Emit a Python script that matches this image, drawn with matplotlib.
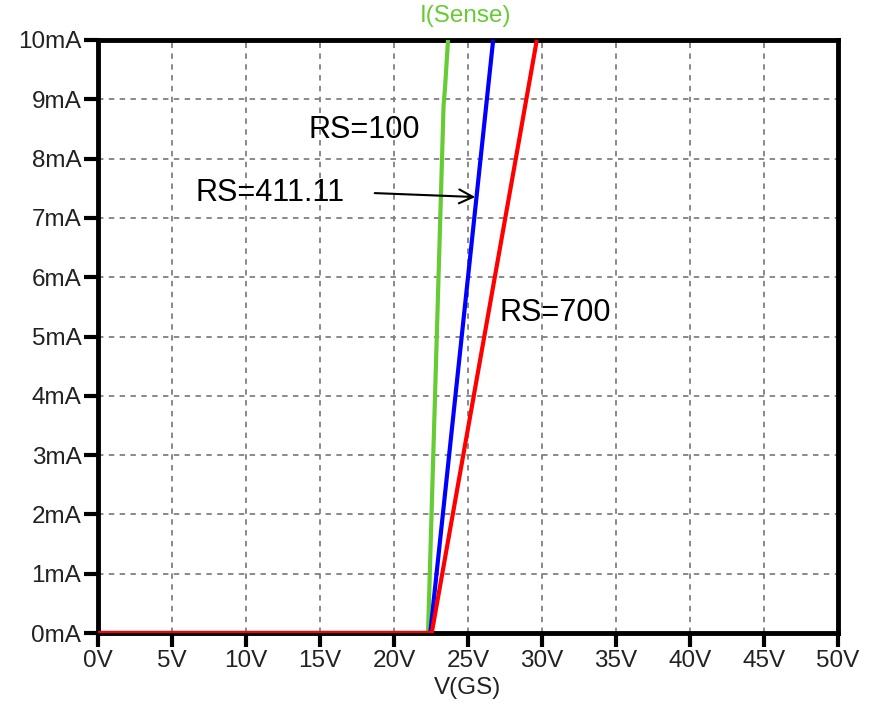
import matplotlib
matplotlib.use("Agg")
import matplotlib.pyplot as plt
from matplotlib.ticker import FuncFormatter

# V(GS) sweep [V] vs I(Sense) [mA] for three RS values
green_v = [0, 22.3, 23.35, 23.45, 23.65]
green_i = [0, 0, 8.9, 9.2, 10]
blue_v = [0, 22.45, 26.7]
blue_i = [0, 0, 10]
red_v = [0, 22.55, 29.65]
red_i = [0, 0, 10]

xticks = list(range(0, 51, 5))
yticks = list(range(0, 11))

plt.rcParams['font.family'] = ['Liberation Sans', 'DejaVu Sans']

fig = plt.figure(figsize=(8.75, 7.11), dpi=100)
ax = fig.add_axes([98/875, 1-633/711, 740/875, 593/711])

ax.plot(green_v, green_i, color="#66cc33", lw=3, solid_capstyle="butt", zorder=3)
ax.plot(blue_v, blue_i, color="#0000ff", lw=3, solid_capstyle="butt", zorder=4)
ax.plot(red_v, red_i, color="#ff0000", lw=3, solid_capstyle="butt", zorder=5)

ax.set_xlim(0, 50)
ax.set_ylim(0, 10)
ax.set_xticks(xticks)
ax.set_yticks(yticks)
ax.xaxis.set_major_formatter(FuncFormatter(lambda v, p: f"{v:.0f}V"))
ax.yaxis.set_major_formatter(FuncFormatter(lambda v, p: f"{v:.0f}mA"))
ax.tick_params(axis="both", direction="out", length=10, width=3, labelsize=17.5,
               colors="black", labelcolor="#222222", pad=2)
ax.grid(True, color="#808080", linestyle=(0, (3, 3)), linewidth=1.3)
for s in ax.spines.values():
    s.set_linewidth(3.5)
    s.set_color("black")

ax.set_xlabel("V(GS)", fontsize=17.5, color="#222222", labelpad=4)
ax.text(24.86, 10.22, "I(Sense)", color="#66cc33", fontsize=17.5,
        ha="center", va="bottom", clip_on=False)

ax.text(14.19, 8.48, "RS=100", fontsize=22, ha="left", va="center")
ax.text(6.62, 7.42, "RS=411.11", fontsize=22, ha="left", va="center")
ax.text(27.16, 5.40, "RS=700", fontsize=22, ha="left", va="center")
ax.annotate("", xy=(25.68, 7.35), xytext=(18.51, 7.42),
            arrowprops=dict(arrowstyle="->", color="black", lw=1.5,
                            mutation_scale=25), zorder=6)

fig.savefig("out.png", dpi=100)
